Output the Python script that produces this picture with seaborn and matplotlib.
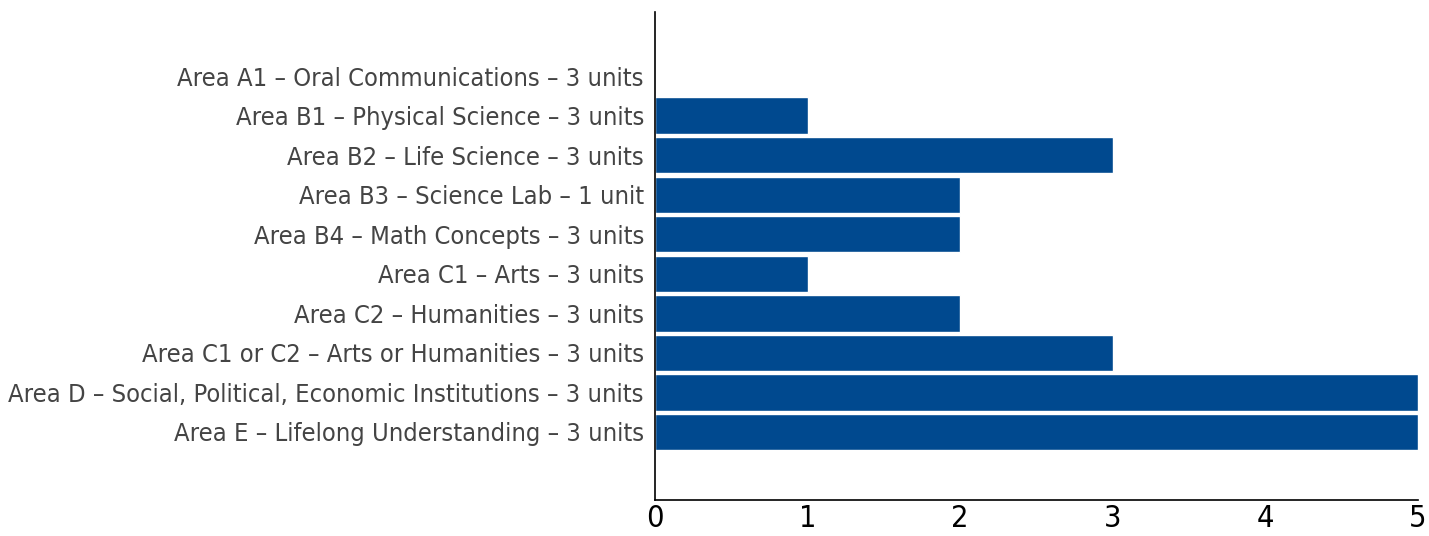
import matplotlib
matplotlib.use('Agg')
import pandas as pd
import numpy as np
import matplotlib.pyplot as plt
import seaborn as sns

# Data
areas = [
    'Area A1 – Oral Communications – 3 units',
    'Area B1 – Physical Science – 3 units',
    'Area B2 – Life Science – 3 units',
    'Area B3 – Science Lab – 1 unit',
    'Area B4 – Math Concepts – 3 units',
    'Area C1 – Arts – 3 units',
    'Area C2 – Humanities – 3 units',
    'Area C1 or C2 – Arts or Humanities – 3 units',
    'Area D – Social, Political, Economic Institutions – 3 units',
    'Area E – Lifelong Understanding – 3 units',
]
counts = [0, 1, 3, 2, 2, 1, 2, 3, 5, 5]
x_ticks = [0, 1, 2, 3, 4, 5]

df = pd.DataFrame({'area': areas, 'count': counts})

sns.set_style('white')
# condensed face, close to the narrow font of the original
plt.rcParams['font.family'] = ['DejaVu Sans']
plt.rcParams['font.stretch'] = 'condensed'

fig = plt.figure(figsize=(14.29, 5.36), dpi=100)
ax = fig.add_axes([0.4584, 0.0672, 0.5339, 0.9104])

sns.barplot(data=df, x='count', y='area', color='#00498f', saturation=1,
            width=0.92, ax=ax)

ax.set_xlim(0, 5)
ax.set_ylim(10.72, -1.62)
ax.set_xticks(x_ticks)
ax.set_xlabel('')
ax.set_ylabel('')

for s in ['top', 'right']:
    ax.spines[s].set_visible(False)
for s in ['left', 'bottom']:
    ax.spines[s].set_color('black')
    ax.spines[s].set_linewidth(1.2)

ax.tick_params(axis='x', direction='in', length=6, width=1, colors='black',
               labelsize=22, pad=3)
ax.tick_params(axis='y', length=0, labelsize=18.3, labelcolor='#444444', pad=8)

plt.savefig('out.png', dpi=100)
